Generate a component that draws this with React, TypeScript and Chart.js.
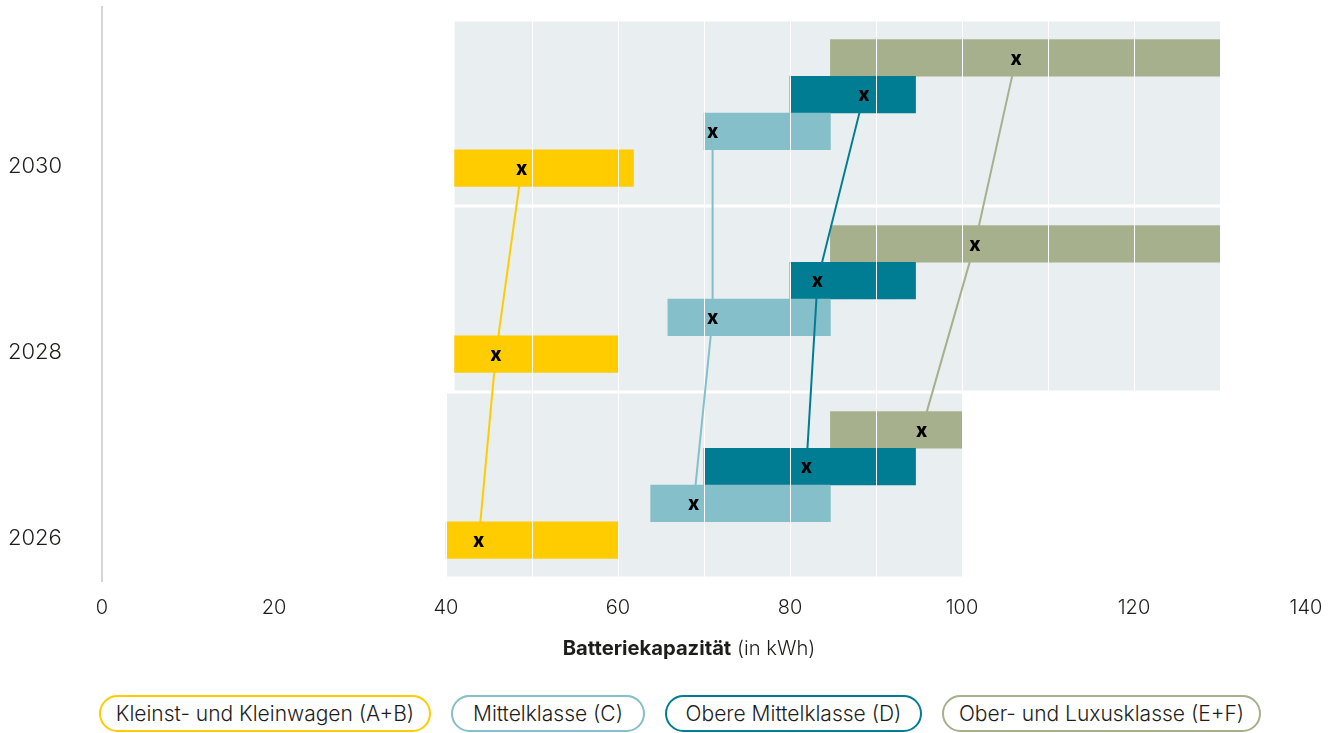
import React, { useEffect, useRef } from 'react';
import { Chart, registerables } from 'chart.js';

Chart.register(...registerables);

// Years on the vertical axis (bottom to top)
const years = ['2026', '2028', '2030'];

// Vehicle classes in legend order
const classNames = [
  'Kleinst- und Kleinwagen (A+B)',
  'Mittelklasse (C)',
  'Obere Mittelklasse (D)',
  'Ober- und Luxusklasse (E+F)',
];
const classColors = ['#FFCC00', '#84BFCA', '#007D93', '#A7B08C'];

// Capacity ranges [from, to] in kWh, one per year (2026, 2028, 2030)
const rangeAB: [number, number][] = [[40, 60], [41, 60], [41, 61.8]];
const rangeC: [number, number][] = [[63.8, 84.7], [65.8, 84.7], [70, 84.7]];
const rangeD: [number, number][] = [[70, 94.6], [80, 94.6], [80, 94.6]];
const rangeEF: [number, number][] = [[84.7, 100], [84.7, 130], [84.7, 130]];

// Typical capacity per year (the "x" marks), in kWh
const typicalAB = [43.8, 45.8, 48.8];
const typicalC = [68.8, 71.0, 71.0];
const typicalD = [81.9, 83.2, 88.6];
const typicalEF = [95.3, 101.5, 106.3];

// Value axis
const xMin = 0;
const xMax = 140;
const xGridStep = 10;
const xLabelStep = 20;

const ranges = [rangeAB, rangeC, rangeD, rangeEF];
const typicals = [typicalAB, typicalC, typicalD, typicalEF];

const BAR_GROUP = 0.79; // share of a year row taken by the four bars
const BAND_GROUP = 0.984; // share of a year row taken by the grey band

const TEXT = '#1d1d1b';
const FONT = 'Inter, "Noto Sans", sans-serif';

// vertical position of class s inside the row of year i (A+B lowest, E+F highest)
const rowPos = (i: number, s: number) => i + ((s - 1.5) * BAR_GROUP) / 4;

const overlayPlugin = {
  id: 'overlay',
  beforeDatasetDraw(_chart: any, args: any) {
    // connecting lines are painted later, above the white grid
    if (args.meta.type === 'line') return false;
    return true;
  },
  afterDraw(chart: any) {
    const { ctx, chartArea } = chart;
    ctx.save();
    ctx.strokeStyle = '#c9c9c9';
    ctx.lineWidth = 1.5;
    ctx.beginPath();
    ctx.moveTo(chartArea.left, chartArea.top - 14);
    ctx.lineTo(chartArea.left, chartArea.bottom + 4);
    ctx.stroke();
    ctx.restore();

    const lineMetas = chart.getSortedVisibleDatasetMetas().filter((m: any) => m.type === 'line');
    lineMetas.forEach((m: any) => m.dataset.draw(ctx, chartArea));

    ctx.save();
    ctx.fillStyle = '#000';
    ctx.font = `800 19px ${FONT}`;
    ctx.textAlign = 'center';
    ctx.textBaseline = 'middle';
    lineMetas.forEach((m: any) => {
      m.data.forEach((pt: any) => ctx.fillText('x', pt.x, pt.y + 1));
    });
    ctx.restore();
  },
};

export default function App() {
  const canvasRef = useRef<HTMLCanvasElement | null>(null);

  useEffect(() => {
    if (!canvasRef.current) return;

    const barSets = classNames.map((name, s) => ({
      type: 'bar' as const,
      label: name,
      data: years.map((_, i) => ({ x: ranges[s][i], y: rowPos(i, s) })),
      backgroundColor: classColors[s],
      borderWidth: 0,
      grouped: false,
      categoryPercentage: 1,
      barPercentage: 1,
      order: 1,
      xAxisID: 'x',
      yAxisID: 'yPos',
    }));

    const lineSets = classNames.map((name, s) => ({
      type: 'line' as const,
      label: name,
      data: years.map((_, i) => ({ x: typicals[s][i], y: rowPos(i, s) })),
      borderColor: classColors[s],
      borderWidth: 2,
      pointRadius: 0,
      tension: 0,
      fill: false,
      order: 0,
      indexAxis: 'y' as const,
      xAxisID: 'x',
      yAxisID: 'yPos',
    }));

    const bandData = years.map((_, i) => {
      const lo = Math.min(...ranges.map((r) => r[i][0]));
      const hi = Math.max(...ranges.map((r) => r[i][1]));
      return [lo, hi];
    });

    const bandSet = {
      type: 'bar' as const,
      label: 'band',
      data: bandData,
      backgroundColor: '#E9EEF1',
      borderWidth: 0,
      grouped: false,
      categoryPercentage: BAND_GROUP,
      barPercentage: 1,
      order: 10,
      xAxisID: 'x',
      yAxisID: 'y',
    };

    const chart = new Chart(canvasRef.current, {
      type: 'bar',
      data: {
        labels: years,
        datasets: [...barSets, ...lineSets, bandSet] as any,
      },
      options: {
        indexAxis: 'y',
        animation: false,
        responsive: true,
        maintainAspectRatio: false,
        layout: { padding: { left: 8, right: 31, top: 20, bottom: 0 } },
        plugins: {
          legend: { display: false },
          tooltip: { enabled: false },
        },
        events: [],
        scales: {
          x: {
            type: 'linear',
            min: xMin,
            max: xMax,
            border: { display: false },
            grid: { color: '#ffffff', lineWidth: 1, drawTicks: false, z: 1 },
            ticks: {
              stepSize: xGridStep,
              autoSkip: false,
              maxRotation: 0,
              padding: 18,
              color: TEXT,
              font: { family: FONT, size: 20, weight: 300 },
              callback: (v: any) => (Number(v) % xLabelStep === 0 ? String(v) : ''),
            },
            afterFit: (scale: any) => {
              scale.height = 62;
              // the end labels fit inside the outer padding
              scale.paddingLeft = 0;
              scale.paddingRight = 0;
            },
          },
          y: {
            type: 'category',
            reverse: true,
            offset: true,
            border: { display: false },
            grid: { display: false },
            ticks: {
              crossAlign: 'far',
              labelOffset: 53,
              color: TEXT,
              font: { family: FONT, size: 22, weight: 300 },
            },
            afterFit: (scale: any) => {
              scale.width = 94;
            },
          },
          yPos: {
            type: 'linear',
            display: false,
            offset: false,
            min: -0.5,
            max: years.length - 0.5,
            ticks: { stepSize: 1 },
            grid: { display: false },
          },
        },
      } as any,
      plugins: [overlayPlugin],
    });

    return () => chart.destroy();
  }, []);

  const pillWidths = [332, 194, 257, 319];

  return (
    <div
      style={{
        position: 'absolute',
        left: 0,
        top: 0,
        width: 1337,
        height: 733,
        overflow: 'hidden',
        fontFamily: FONT,
        color: TEXT,
        background: '#fff',
      }}
    >
      <div style={{ position: 'absolute', left: 0, top: 0, width: 1337, height: 640 }}>
        <canvas ref={canvasRef} />
      </div>
      <div
        style={{
          position: 'absolute',
          left: 689,
          top: 636,
          transform: 'translateX(-50%)',
          whiteSpace: 'nowrap',
          fontSize: 20.2,
          lineHeight: '24px',
          fontWeight: 300,
        }}
      >
        <span style={{ fontWeight: 700 }}>Batteriekapazität</span> (in kWh)
      </div>
      <div
        style={{
          position: 'absolute',
          left: 99,
          top: 695,
          display: 'flex',
          gap: 20,
        }}
      >
        {classNames.map((name, i) => (
          <div
            key={name}
            style={{
              boxSizing: 'border-box',
              width: pillWidths[i],
              height: 37,
              border: `2.5px solid ${classColors[i]}`,
              borderRadius: 19,
              display: 'flex',
              alignItems: 'center',
              justifyContent: 'center',
              fontSize: 21,
              fontWeight: 300,
              whiteSpace: 'nowrap',
            }}
          >
            {name}
          </div>
        ))}
      </div>
    </div>
  );
}
